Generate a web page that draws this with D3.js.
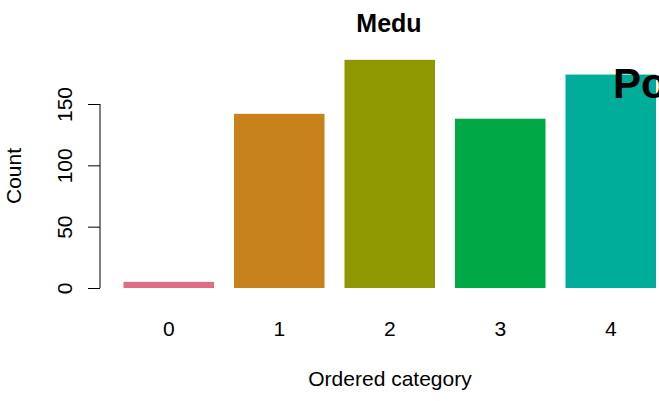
<!DOCTYPE html>
<html>
<head>
<meta charset="utf-8">
<script src="https://cdn.jsdelivr.net/npm/d3@7"></script>
<style>
  html, body { margin: 0; padding: 0; background: #ffffff; }
  svg { display: block; font-family: "Liberation Sans", Arial, Helvetica, sans-serif; }
</style>
</head>
<body>
<script>
// Data
const categories = ["0", "1", "2", "3", "4"];
const counts = [5, 142, 186, 138, 174];
const barColors = ["#E16A86", "#C7821C", "#909800", "#00A846", "#00AD9A"];
const yTicks = [0, 50, 100, 150];
const titleText = "Medu";
const xTitle = "Ordered category";
const yTitle = "Count";
const cornerText = "Po";

const W = 659, H = 401;
const svg = d3.select("body").append("svg").attr("width", W).attr("height", H);

const x = d3.scaleBand().domain(categories).range([123.5, 656]).paddingInner(0.181).paddingOuter(0);
const y = d3.scaleLinear().domain([0, 150]).range([288, 104]);

// Bars
svg.append("g").selectAll("rect").data(categories).join("rect")
  .attr("x", d => x(d))
  .attr("width", x.bandwidth())
  .attr("y", (d, i) => y(counts[i]))
  .attr("height", (d, i) => y(0) - y(counts[i]))
  .attr("fill", (d, i) => barColors[i]);

// Y axis
const yAxis = d3.axisLeft(y).tickValues(yTicks).tickSize(12).tickFormat(d3.format("d"));
const gy = svg.append("g").attr("transform", "translate(100,0)").call(yAxis);
gy.select(".domain").attr("stroke", "#000").attr("stroke-width", 1)
  .attr("d", `M0,${y(0)}V${y(150)}`);
gy.selectAll(".tick line").attr("stroke", "#000");
gy.selectAll(".tick text")
  .attr("x", null).attr("dy", null)
  .attr("transform", "translate(-28,0) rotate(-90)")
  .attr("text-anchor", "middle")
  .attr("fill", "#000")
  .style("font-size", "21px")
  .style("font-family", "'Liberation Sans', Arial, sans-serif");

// X category labels (no axis line, as in barplot)
const gx = svg.append("g").attr("transform", "translate(0,288)")
  .call(d3.axisBottom(x).tickSize(0).tickPadding(0));
gx.select(".domain").remove();
gx.selectAll(".tick text")
  .attr("y", 48).attr("dy", null)
  .attr("fill", "#000")
  .style("font-size", "21px")
  .style("font-family", "'Liberation Sans', Arial, sans-serif");

// Title
svg.append("text").attr("x", 389).attr("y", 32).attr("text-anchor", "middle")
  .style("font-size", "25px").style("font-weight", "bold").text(titleText);

// Corner text (clipped by the right edge, as in the reference)
svg.append("text").attr("x", 613).attr("y", 98).attr("text-anchor", "start")
  .style("font-size", "42px").style("font-weight", "bold").text(cornerText);

// Axis titles
svg.append("text").attr("x", 390).attr("y", 386).attr("text-anchor", "middle")
  .style("font-size", "21px").text(xTitle);
svg.append("text").attr("transform", "translate(21,176) rotate(-90)").attr("text-anchor", "middle")
  .style("font-size", "21px").text(yTitle);
</script>
</body>
</html>
